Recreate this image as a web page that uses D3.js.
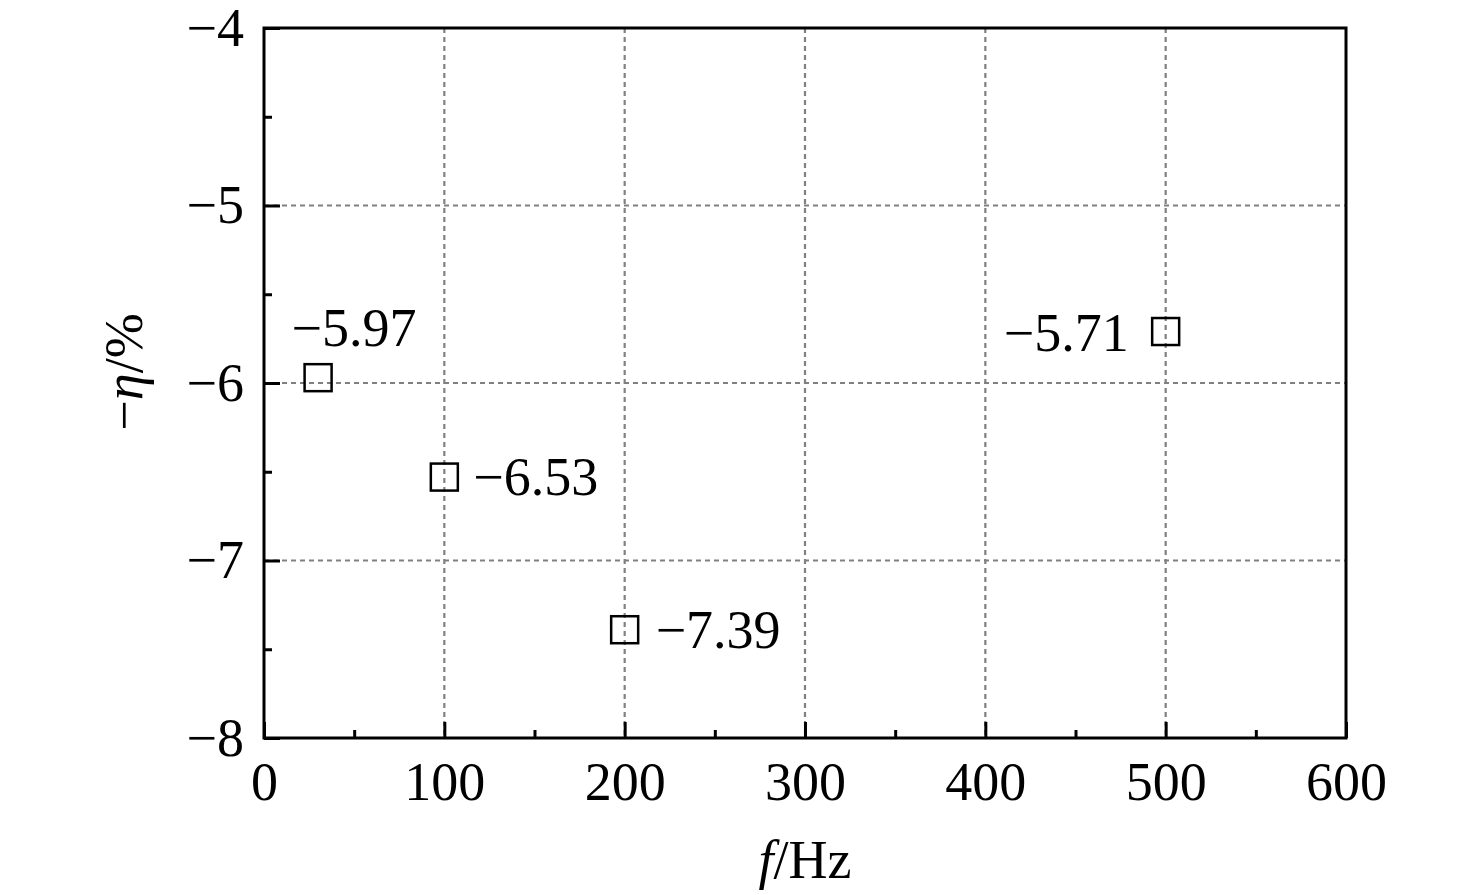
<!DOCTYPE html>
<html>
<head>
<meta charset="utf-8">
<script src="https://cdn.jsdelivr.net/npm/d3@7"></script>
<style>
body{margin:0;background:#fff;}
text{font-family:"Liberation Serif","Times New Roman",serif;}
</style>
</head>
<body>
<svg id="canvas" width="1476" height="895"></svg>
<script>
// data
var freq = [30, 100, 200, 500];
var eta = [-5.97, -6.53, -7.39, -5.71];
var labels = ["−5.97", "−6.53", "−7.39", "−5.71"];
var xTicks = [0, 100, 200, 300, 400, 500, 600];
var xMinor = [50, 150, 250, 350, 450, 550];
var yTicks = [-8, -7, -6, -5, -4];
var yMinor = [-7.5, -6.5, -5.5, -4.5];

var pLeft = 264, pRight = 1346, pTop = 28, pBottom = 738;
var fs = 54;

var svg = d3.select("#canvas");
var x = d3.scaleLinear().domain([0, 600]).range([pLeft, pRight]);
var y = d3.scaleLinear().domain([-8, -4]).range([pBottom, pTop]);

// grid
svg.append("g").selectAll("line")
	.data(xTicks.slice(1, -1))
	.enter().append("line")
	.attr("x1", function(d){ return x(d); })
	.attr("x2", function(d){ return x(d); })
	.attr("y1", pTop).attr("y2", pBottom)
	.attr("style", "stroke:#808080;stroke-width:2.2;stroke-dasharray:5,4;");
svg.append("g").selectAll("line")
	.data(yTicks.slice(1, -1))
	.enter().append("line")
	.attr("y1", function(d){ return y(d); })
	.attr("y2", function(d){ return y(d); })
	.attr("x1", pLeft).attr("x2", pRight)
	.attr("style", "stroke:#808080;stroke-width:2.2;stroke-dasharray:5,4;");

// axes
svg.append("g")
	.attr("transform", "translate(0," + pBottom + ")")
	.call(d3.axisBottom(x).tickValues(xTicks).tickSize(-16).tickPadding(24).tickFormat(d3.format("d")));
svg.append("g")
	.attr("transform", "translate(0," + pBottom + ")")
	.call(d3.axisBottom(x).tickValues(xMinor).tickSize(-8).tickFormat(""));
svg.append("g")
	.attr("transform", "translate(" + pLeft + ",0)")
	.call(d3.axisLeft(y).tickValues(yTicks).tickSize(-16).tickPadding(20).tickFormat(d3.format("d")));
svg.append("g")
	.attr("transform", "translate(" + pLeft + ",0)")
	.call(d3.axisLeft(y).tickValues(yMinor).tickSize(-8).tickFormat(""));

svg.selectAll(".domain").remove();
svg.selectAll(".tick line").attr("stroke", "#000").attr("stroke-width", 3);
svg.selectAll(".tick text")
	.attr("fill", "#000")
	.style("font-size", fs + "px")
	.style("font-family", "'Liberation Serif', serif");

// frame
svg.append("rect")
	.attr("x", pLeft).attr("y", pTop)
	.attr("width", pRight - pLeft).attr("height", pBottom - pTop)
	.attr("style", "fill:none;stroke:#000;stroke-width:3;");

// points
var size = 27;
svg.append("g").selectAll("rect")
	.data(freq)
	.enter().append("rect")
	.attr("x", function(d){ return x(d) - size / 2; })
	.attr("y", function(d, i){ return y(eta[i]) - size / 2; })
	.attr("width", size).attr("height", size)
	.attr("style", "fill:none;stroke:#000;stroke-width:2.5;");

// point labels
var offs = [[36, -32, "middle"], [29, 18, "start"], [31, 18, "start"], [-37, 19, "end"]];
svg.append("g").selectAll("text")
	.data(freq)
	.enter().append("text")
	.attr("x", function(d, i){ return x(d) + offs[i][0]; })
	.attr("y", function(d, i){ return y(eta[i]) + offs[i][1]; })
	.attr("text-anchor", function(d, i){ return offs[i][2]; })
	.style("font-size", fs + "px")
	.text(function(d, i){ return labels[i]; });

// axis titles
var xt = svg.append("text")
	.attr("x", (pLeft + pRight) / 2).attr("y", 878)
	.attr("text-anchor", "middle")
	.style("font-size", fs + "px");
xt.append("tspan").style("font-style", "italic").text("f");
xt.append("tspan").text("/Hz");

var yt = svg.append("text")
	.attr("transform", "translate(142,372) rotate(-90)")
	.attr("text-anchor", "middle")
	.style("font-size", fs + "px");
yt.append("tspan").text("−");
yt.append("tspan").style("font-style", "italic").text("η");
yt.append("tspan").text("/%");
</script>
</body>
</html>
